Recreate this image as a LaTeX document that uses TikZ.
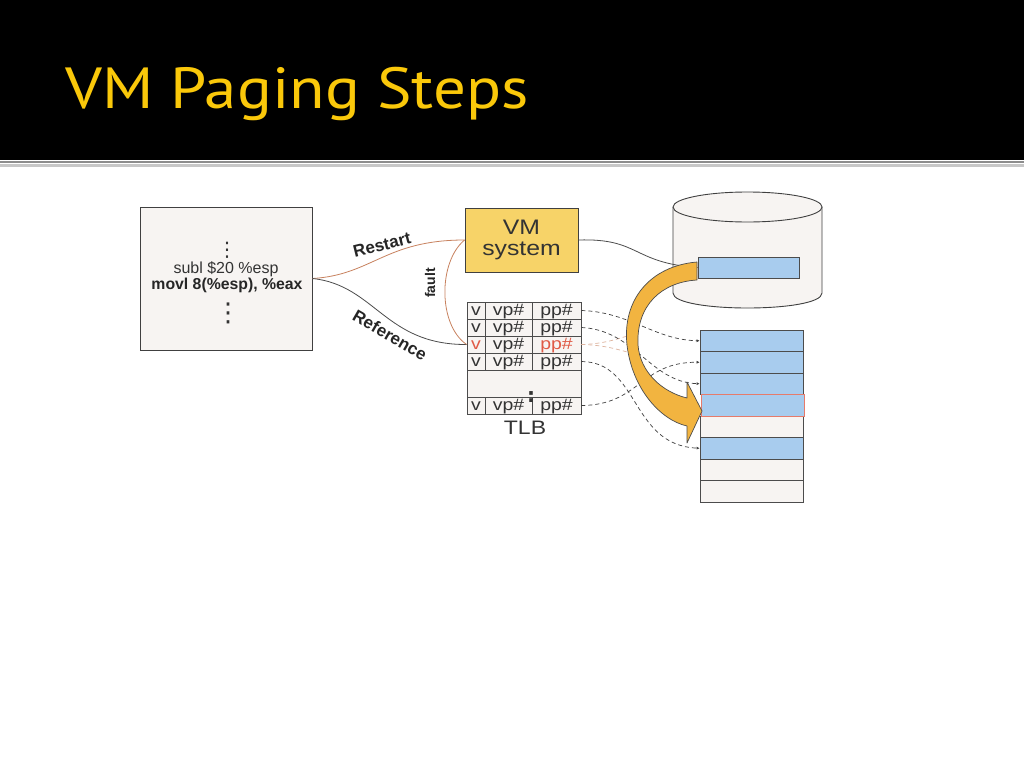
\documentclass[tikz,border=0pt]{standalone}
\usepackage{fontspec}
\setmainfont{Liberation Sans}
\newfontfamily\titlefont{PT Sans}
\newfontfamily\widefont[FakeStretch=1.18]{Liberation Sans}
\newfontfamily\symfont{DejaVu Sans}
\usetikzlibrary{arrows.meta}
\definecolor{TitleGold}{RGB}{250, 200, 10}
\definecolor{PageBlue}{RGB}{168, 204, 238}
\definecolor{VMyellow}{RGB}{247, 211, 104}
\definecolor{LineBrown}{RGB}{200, 130, 95}
\definecolor{PaperGray}{RGB}{247, 244, 242}
\definecolor{HotRed}{RGB}{224, 90, 70}
\definecolor{ArrowOrange}{RGB}{242, 180, 64}

\begin{document}
\begin{tikzpicture}[x=1pt, y=-1pt,
  box/.style={draw=black!75, fill=PaperGray, line width=0.9pt, inner sep=0pt},
  cell/.style={draw=black!70, fill=PaperGray, line width=0.8pt, minimum height=17pt, inner sep=0pt, text height=11pt, text depth=2pt, font=\widefont\fontsize{16.5}{16.5}\selectfont, text=black!80},
  page/.style={draw=black!70, fill=PageBlue, line width=0.8pt, minimum width=103pt, minimum height=21.5pt, inner sep=0pt},
  free/.style={page, fill=PaperGray},
  dots/.style={inner sep=0pt, font=\symfont\fontsize{20}{20}\selectfont, text=black!80},
  lab/.style={font=\fontsize{17}{17}\selectfont\bfseries, text=black!85, inner sep=0pt},
  wire/.style={line width=0.8pt, draw=black!70},
  fwire/.style={line width=0.8pt, draw=LineBrown},
  dline/.style={dash pattern=on 4pt off 3pt, line width=0.7pt, draw=black!75, -{Latex[length=3pt, width=3pt]}},
  fline/.style={dash pattern=on 4pt off 3pt, line width=0.7pt, draw=LineBrown!60}]
\useasboundingbox (0,0) rectangle (1024,768);
\fill[white] (0,0) rectangle (1024,768);
\fill[black] (0,0) rectangle (1024,160);
\fill[black!45] (0,161) rectangle (1024,163);
\fill[black!22] (0,164) rectangle (1024,167);
\node[anchor=base west, inner sep=0pt, xscale=1.12, text=TitleGold, font=\titlefont\fontsize{58}{58}\selectfont] (title) at (65,108) {VM Paging Steps};
% program
\node[box, minimum width=172pt, minimum height=143pt] (lb) at (226,278.5) {};
\node[dots] (lbdots) at (227,250) {⋮};
\node[inner sep=0pt, font=\fontsize{16}{16}\selectfont, text=black!80] (lbsub) at (226,269) {subl \$20 \%esp};
\node[inner sep=0pt, font=\fontsize{15.8}{16}\selectfont\bfseries, text=black!85] (lbmov) at (227,285) {movl 8(\%esp), \%eax};
\node[dots, font=\symfont\fontsize{26}{26}\selectfont] (lbdots2) at (228,313) {⋮};
% VM system
\node[box, fill=VMyellow, minimum width=113pt, minimum height=64pt, align=center, font=\widefont\fontsize{21}{21}\selectfont, text=black!80] (vm) at (521.5,240) {VM\\system};
% TLB
\node[cell, minimum width=18pt] (t1v) at (476,310.5) {v};
\node[cell, minimum width=47pt] (t1a) at (508.5,310.5) {vp\#};
\node[cell, minimum width=49pt] (t1p) at (556.5,310.5) {pp\#};
\node[cell, minimum width=18pt] (t2v) at (476,327.5) {v};
\node[cell, minimum width=47pt] (t2a) at (508.5,327.5) {vp\#};
\node[cell, minimum width=49pt] (t2p) at (556.5,327.5) {pp\#};
\node[cell, minimum width=18pt, text=HotRed] (t3v) at (476,344.5) {v};
\node[cell, minimum width=47pt] (t3a) at (508.5,344.5) {vp\#};
\node[cell, minimum width=49pt, text=HotRed] (t3p) at (556.5,344.5) {pp\#};
\node[cell, minimum width=18pt] (t4v) at (476,361.5) {v};
\node[cell, minimum width=47pt] (t4a) at (508.5,361.5) {vp\#};
\node[cell, minimum width=49pt] (t4p) at (556.5,361.5) {pp\#};
\node[cell, minimum width=114pt, minimum height=27pt] (tgap) at (524,383.5) {};
\node[cell, minimum width=18pt] (t5v) at (476,405.5) {v};
\node[cell, minimum width=47pt] (t5a) at (508.5,405.5) {vp\#};
\node[cell, minimum width=49pt] (t5p) at (556.5,405.5) {pp\#};
\node[dots, font=\symfont\fontsize{20}{20}\selectfont\bfseries] (tdots) at (531,397) {:};
\node[font=\widefont\fontsize{19.5}{20}\selectfont, text=black!80] (tlb) at (525,428) {TLB};
% disk
\draw[box] (673,207) -- (673,293) .. controls (673,313) and (822,313) .. (822,293) -- (822,207);
\draw[box] (747.5,207) ellipse[x radius=74.5, y radius=15];
\node[page, minimum width=101pt, minimum height=21pt] (dblk) at (748.5,267.5) {};
% physical memory
\node[page] (mem1) at (751.5,340.75) {};
\node[page] (mem2) at (751.5,362.25) {};
\node[page] (mem3) at (751.5,383.75) {};
\node[free] (mem5) at (751.5,426.75) {};
\node[page] (mem6) at (751.5,448.25) {};
\node[free] (mem7) at (751.5,469.75) {};
\node[free] (mem8) at (751.5,491.25) {};
\node[page, draw=HotRed!80, line width=1pt] (mem4) at (752.5,405.25) {};
% connectors
\draw[fwire] (lb.east) .. controls (372,275) and (385,240) .. (vm.west);
\draw[wire] (lb.east) .. controls (375,285) and (385,345) .. (t3v.west);
\draw[fwire] (vm.west) .. controls (438,262) and (438,325) .. (t3v.west);
\node[lab, rotate=14] (rlab) at (382,245) {Restart};
\node[lab, rotate=-30] (flab) at (390,335) {Reference};
\node[lab, rotate=90, font=\fontsize{14}{14}\selectfont\bfseries] (ulab) at (430,283) {fault};
\draw[wire] (vm.east) .. controls (640,238) and (632,263) .. (dblk.west);
\coordinate (hid1) at (634,334);
\coordinate (hid2) at (634,354);
\draw[fline] (t3p.east) .. controls (605,344) and (620,338) .. (hid1);
\draw[fline] (t3p.east) .. controls (605,345) and (620,350) .. (hid2);
\draw[dline] (t1p.east) .. controls (630,312) and (655,340) .. (mem1.west);
\draw[dline] (t2p.east) .. controls (635,330) and (650,382) .. (mem3.west);
\draw[dline] (t4p.east) .. controls (640,362) and (630,445) .. (mem6.west);
\draw[dline] (t5p.east) .. controls (640,405) and (640,362) .. (mem2.west);
% page-in arrow
\draw[fill=ArrowOrange, draw=black!70, line width=0.7pt, line join=round]
  (697,262) .. controls (650,266) and (622,300) .. (627,345)
  .. controls (632,388) and (660,420) .. (687,426)
  -- (687,443) -- (702,411) -- (687,382) -- (687,398)
  .. controls (662,392) and (640,372) .. (638,345)
  .. controls (636,305) and (662,282) .. (697,280) -- cycle;
\end{tikzpicture}
\end{document}
